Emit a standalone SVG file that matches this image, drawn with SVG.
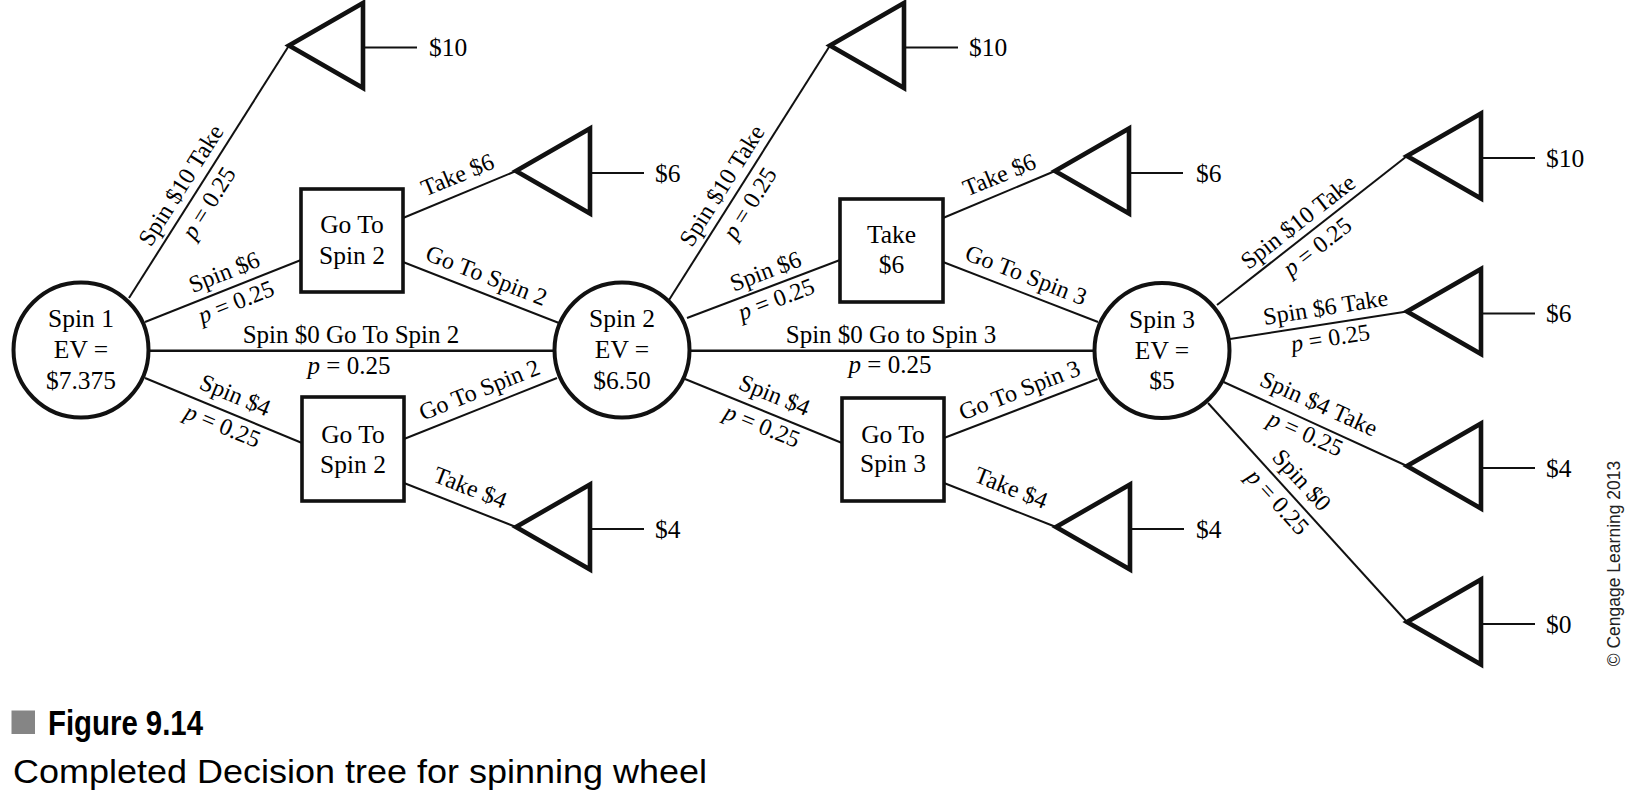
<svg xmlns="http://www.w3.org/2000/svg" xmlns:xlink="http://www.w3.org/1999/xlink" width="1630" height="794" viewBox="0 0 1630 794">
<style>
  .bg{fill:#ffffff}
  .edge{stroke:#111;stroke-width:2;fill:none}
  .hedge{stroke:#111;stroke-width:2.6;fill:none}
  .chance{fill:#ffffff;stroke:#111;stroke-width:4}
  .dec{fill:#ffffff;stroke:#111;stroke-width:3.6}
  .tri{fill:#ffffff;stroke:#111;stroke-width:4.6;stroke-linejoin:miter}
  .stem{stroke:#111;stroke-width:2}
  .nt{font-family:"Liberation Serif","Times New Roman",serif;font-size:25.5px;fill:#000;text-anchor:middle}
  .pay{font-family:"Liberation Serif","Times New Roman",serif;font-size:25.5px;fill:#000}
  .lb{font-family:"Liberation Serif","Times New Roman",serif;font-size:24px;fill:#000;text-anchor:middle}
  .lh{font-family:"Liberation Serif","Times New Roman",serif;font-size:25px;fill:#000;text-anchor:middle}
  .it{font-style:italic}
  .cap1{font-family:"Liberation Sans",Arial,sans-serif;font-weight:bold;font-size:35px;fill:#000}
  .cap2{font-family:"Liberation Sans",Arial,sans-serif;font-size:33px;fill:#000}
  .copy{font-family:"Liberation Sans",Arial,sans-serif;font-size:17.5px;fill:#222;text-anchor:middle}
</style>
<defs>
  <g id="term">
    <polygon class="tri" points="0,0 74,-42.5 74,42.5"/>
    <line class="stem" x1="74" y1="2" x2="128" y2="2"/>
  </g>
</defs>
<rect class="bg" x="0" y="0" width="1630" height="794"/>

<g id="connectors">
  <line class="edge" x1="129" y1="298" x2="289" y2="45.5"/>
  <line class="edge" x1="145" y1="322" x2="301" y2="260"/>
  <line class="hedge" x1="149" y1="350.7" x2="555" y2="350.7"/>
  <line class="edge" x1="145" y1="378" x2="302" y2="443"/>
  <line class="edge" x1="403" y1="218" x2="516" y2="171"/>
  <line class="edge" x1="403" y1="262" x2="559" y2="323"/>
  <line class="edge" x1="404" y1="439" x2="557" y2="378"/>
  <line class="edge" x1="404" y1="483" x2="516" y2="527"/>
  <line class="edge" x1="669" y1="300" x2="830" y2="45.5"/>
  <line class="edge" x1="687" y1="318" x2="840" y2="260"/>
  <line class="hedge" x1="690" y1="350.7" x2="1094" y2="350.7"/>
  <line class="edge" x1="685" y1="379" x2="842" y2="443"/>
  <line class="edge" x1="943" y1="218" x2="1055" y2="171"/>
  <line class="edge" x1="943" y1="262" x2="1098" y2="322"/>
  <line class="edge" x1="944" y1="438" x2="1097.5" y2="379"/>
  <line class="edge" x1="944" y1="483" x2="1056" y2="527"/>
  <line class="edge" x1="1217" y1="305" x2="1407" y2="156"/>
  <line class="edge" x1="1230" y1="339" x2="1407" y2="311.5"/>
  <line class="edge" x1="1223.6" y1="382" x2="1407" y2="466"/>
  <line class="edge" x1="1208" y1="403" x2="1407" y2="622"/>

  <!-- connector labels -->
  <g transform="translate(194.7,194) rotate(-57.7)"><text class="lb" y="-8.5">Spin $10 Take</text><text class="lb" y="24.5"><tspan class="it">p</tspan> = 0.25</text></g>
  <g transform="translate(230.4,287.9) rotate(-21.8)"><text class="lb" y="-9">Spin $6</text><text class="lb" y="23"><tspan class="it">p</tspan> = 0.25</text></g>
  <text class="lh" x="351" y="343">Spin $0 Go To Spin 2</text>
  <text class="lh" x="349" y="374"><tspan class="it">p</tspan> = 0.25</text>
  <g transform="translate(228,412.6) rotate(22.6)"><text class="lb" y="-11">Spin $4</text><text class="lb" y="22"><tspan class="it">p</tspan> = 0.25</text></g>
  <g transform="translate(464.7,192.4) rotate(-22.5)"><text class="lb" y="-11">Take $6</text></g>
  <g transform="translate(480,292.2) rotate(21.4)"><text class="lb" y="-10">Go To Spin 2</text></g>
  <g transform="translate(486,406.4) rotate(-21.7)"><text class="lb" y="-10">Go To Spin 2</text></g>
  <g transform="translate(463,506.1) rotate(21.4)"><text class="lb" y="-12">Take $4</text></g>

  <g transform="translate(735.8,194.4) rotate(-57.7)"><text class="lb" y="-8.5">Spin $10 Take</text><text class="lb" y="24.5"><tspan class="it">p</tspan> = 0.25</text></g>
  <g transform="translate(771.2,286) rotate(-20.8)"><text class="lb" y="-8">Spin $6</text><text class="lb" y="22"><tspan class="it">p</tspan> = 0.25</text></g>
  <text class="lh" x="891" y="343">Spin $0 Go to Spin 3</text>
  <text class="lh" x="890" y="373"><tspan class="it">p</tspan> = 0.25</text>
  <g transform="translate(767.4,412.6) rotate(22.2)"><text class="lb" y="-11">Spin $4</text><text class="lb" y="22"><tspan class="it">p</tspan> = 0.25</text></g>
  <g transform="translate(1006.5,192.4) rotate(-22.4)"><text class="lb" y="-11">Take $6</text></g>
  <g transform="translate(1019.6,291.7) rotate(21.2)"><text class="lb" y="-10">Go To Spin 3</text></g>
  <g transform="translate(1026,406.8) rotate(-21.2)"><text class="lb" y="-10">Go To Spin 3</text></g>
  <g transform="translate(1003.8,506.3) rotate(21.6)"><text class="lb" y="-12">Take $4</text></g>

  <g transform="translate(1307.7,234.3) rotate(-37.9)"><text class="lb" y="-8">Spin $10 Take</text><text class="lb" y="23.5"><tspan class="it">p</tspan> = 0.25</text></g>
  <g transform="translate(1328.1,323.5) rotate(-9)"><text class="lb" y="-8.5">Spin $6 Take</text><text class="lb" y="22.5"><tspan class="it">p</tspan> = 0.25</text></g>
  <g transform="translate(1310.8,421.4) rotate(24.3)"><text class="lb" y="-11.5">Spin $4 Take</text><text class="lb" y="21"><tspan class="it">p</tspan> = 0.25</text></g>
  <g transform="translate(1288.9,491.7) rotate(47.6)"><text class="lb" y="-9.5">Spin $0</text><text class="lb" y="23"><tspan class="it">p</tspan> = 0.25</text></g>
</g>

<g id="spin1">
  <circle class="chance" cx="81" cy="350" r="67.5"/>
  <text class="nt" x="81" y="327">Spin 1</text>
  <text class="nt" x="81" y="358">EV =</text>
  <text class="nt" x="81" y="389">$7.375</text>
</g>
<g id="spin2">
  <circle class="chance" cx="622" cy="350" r="67.5"/>
  <text class="nt" x="622" y="327">Spin 2</text>
  <text class="nt" x="622" y="358">EV =</text>
  <text class="nt" x="622" y="389">$6.50</text>
</g>
<g id="spin3">
  <circle class="chance" cx="1162" cy="350.5" r="67.5"/>
  <text class="nt" x="1162" y="328">Spin 3</text>
  <text class="nt" x="1162" y="359">EV =</text>
  <text class="nt" x="1162" y="389">$5</text>
</g>

<g id="box1">
  <rect class="dec" x="301" y="189" width="102" height="103"/>
  <text class="nt" x="352" y="233">Go To</text>
  <text class="nt" x="352" y="264">Spin 2</text>
</g>
<g id="box2">
  <rect class="dec" x="302" y="397" width="102" height="104"/>
  <text class="nt" x="353" y="443">Go To</text>
  <text class="nt" x="353" y="473">Spin 2</text>
</g>
<g id="box3">
  <rect class="dec" x="840" y="199" width="103" height="103"/>
  <text class="nt" x="891.5" y="243">Take</text>
  <text class="nt" x="891.5" y="273">$6</text>
</g>
<g id="box4">
  <rect class="dec" x="842" y="398" width="102" height="103"/>
  <text class="nt" x="893" y="443">Go To</text>
  <text class="nt" x="893" y="472">Spin 3</text>
</g>

<g id="end1"><use xlink:href="#term" href="#term" x="289" y="45.5"/><text class="pay" x="429" y="56">$10</text></g>
<g id="end2"><use xlink:href="#term" href="#term" x="516" y="171"/><text class="pay" x="655" y="181.5">$6</text></g>
<g id="end3"><use xlink:href="#term" href="#term" x="516" y="527"/><text class="pay" x="655" y="537.5">$4</text></g>
<g id="end4"><use xlink:href="#term" href="#term" x="830" y="45.5"/><text class="pay" x="969" y="56">$10</text></g>
<g id="end5"><use xlink:href="#term" href="#term" x="1055" y="171"/><text class="pay" x="1196" y="181.5">$6</text></g>
<g id="end6"><use xlink:href="#term" href="#term" x="1056" y="527"/><text class="pay" x="1196" y="537.5">$4</text></g>
<g id="end7"><use xlink:href="#term" href="#term" x="1407" y="156"/><text class="pay" x="1546" y="166.5">$10</text></g>
<g id="end8"><use xlink:href="#term" href="#term" x="1407" y="311.5"/><text class="pay" x="1546" y="322">$6</text></g>
<g id="end9"><use xlink:href="#term" href="#term" x="1407" y="466"/><text class="pay" x="1546" y="476.5">$4</text></g>
<g id="end10"><use xlink:href="#term" href="#term" x="1407" y="622"/><text class="pay" x="1546" y="632.5">$0</text></g>

<text class="copy" transform="translate(1620,563.5) rotate(-90)">© Cengage Learning 2013</text>

<g id="caption">
  <rect x="11.5" y="710.5" width="23.5" height="23.5" fill="#858585"/>
  <text class="cap1" x="48" y="735" textLength="155" lengthAdjust="spacingAndGlyphs">Figure 9.14</text>
  <text class="cap2" x="13" y="783" textLength="694" lengthAdjust="spacingAndGlyphs">Completed Decision tree for spinning wheel</text>
</g>
</svg>
